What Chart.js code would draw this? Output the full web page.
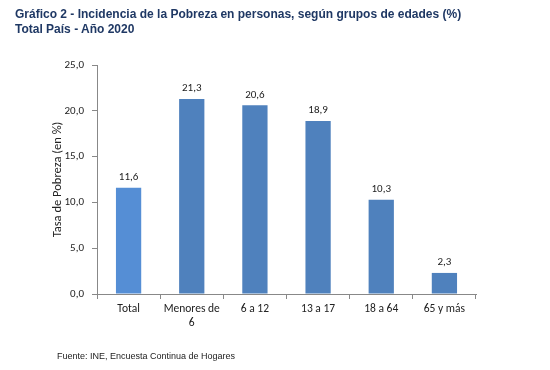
<!DOCTYPE html>
<html>
<head>
<meta charset="utf-8">
<script src="https://cdn.jsdelivr.net/npm/chart.js@4.4.0/dist/chart.umd.min.js"></script>
<style>
  body { margin: 0; background: #fff; }
  #wrap { position: relative; width: 550px; height: 370px; }
  #chart { position: absolute; left: 0; top: 0; }
  .title { position: absolute; left: 15px; top: 7px; font: bold 12px "Liberation Sans", Arial, sans-serif; color: #1f3864; line-height: 15px; }
  .source { position: absolute; left: 57px; top: 351px; font: 9px "Liberation Sans", Arial, sans-serif; color: #222; }
</style>
</head>
<body>
<div id="wrap">
  <canvas id="chart" width="550" height="370"></canvas>
  <div class="title">Gráfico 2 - Incidencia de la Pobreza en personas, según grupos de edades (%)<br>Total País - Año 2020</div>
  <div class="source">Fuente: INE, Encuesta Continua de Hogares</div>
</div>
<script>
const categorias = [['Total'], ['Menores de', '6'], ['6 a 12'], ['13 a 17'], ['18 a 64'], ['65 y más']];
const tasas = [11.6, 21.3, 20.6, 18.9, 10.3, 2.3];
const colores = ['#558ed5', '#4f81bd', '#4f81bd', '#4f81bd', '#4f81bd', '#4f81bd'];

const familia = 'Carlito, Calibri, Lato, sans-serif';
const fuente = { family: familia, size: 11 };
const fmt = v => v.toFixed(1).replace('.', ',');

// etiquetas de valor arriba de cada barra
const etiquetas = {
  id: 'etiquetas',
  afterDatasetsDraw(chart) {
    const ctx = chart.ctx;
    ctx.save();
    ctx.font = '11px ' + familia;
    ctx.fillStyle = '#222';
    ctx.textAlign = 'center';
    ctx.textBaseline = 'bottom';
    chart.getDatasetMeta(0).data.forEach((bar, i) => {
      ctx.fillText(fmt(tasas[i]), bar.x, bar.y - 5);
    });
    ctx.restore();
  }
};

new Chart(document.getElementById('chart'), {
  type: 'bar',
  data: {
    labels: categorias,
    datasets: [{
      data: tasas,
      backgroundColor: colores,
      barPercentage: 0.4,
      categoryPercentage: 1
    }]
  },
  options: {
    responsive: false,
    animation: false,
    layout: { padding: { left: 50, right: 74, top: 65, bottom: 0 } },
    plugins: { legend: { display: false }, tooltip: { enabled: false } },
    scales: {
      x: {
        offset: true,
        grid: { offset: true, drawOnChartArea: false, tickLength: 5, color: '#888' },
        border: { color: '#888' },
        ticks: { color: '#222', font: { family: familia, size: 11.5 }, padding: 3 },
        afterFit: s => { s.height = 76; }
      },
      y: {
        min: 0, max: 25,
        ticks: { stepSize: 5, color: '#222', font: fuente, padding: 8, callback: v => fmt(v) },
        grid: { drawOnChartArea: false, tickLength: 5, color: '#888' },
        border: { color: '#888' },
        title: { display: true, text: 'Tasa de Pobreza (en %)', color: '#222', font: { family: familia, size: 12.5 }, padding: 0 },
        afterFit: s => { s.width = 47; }
      }
    }
  },
  plugins: [etiquetas]
});
</script>
</body>
</html>
